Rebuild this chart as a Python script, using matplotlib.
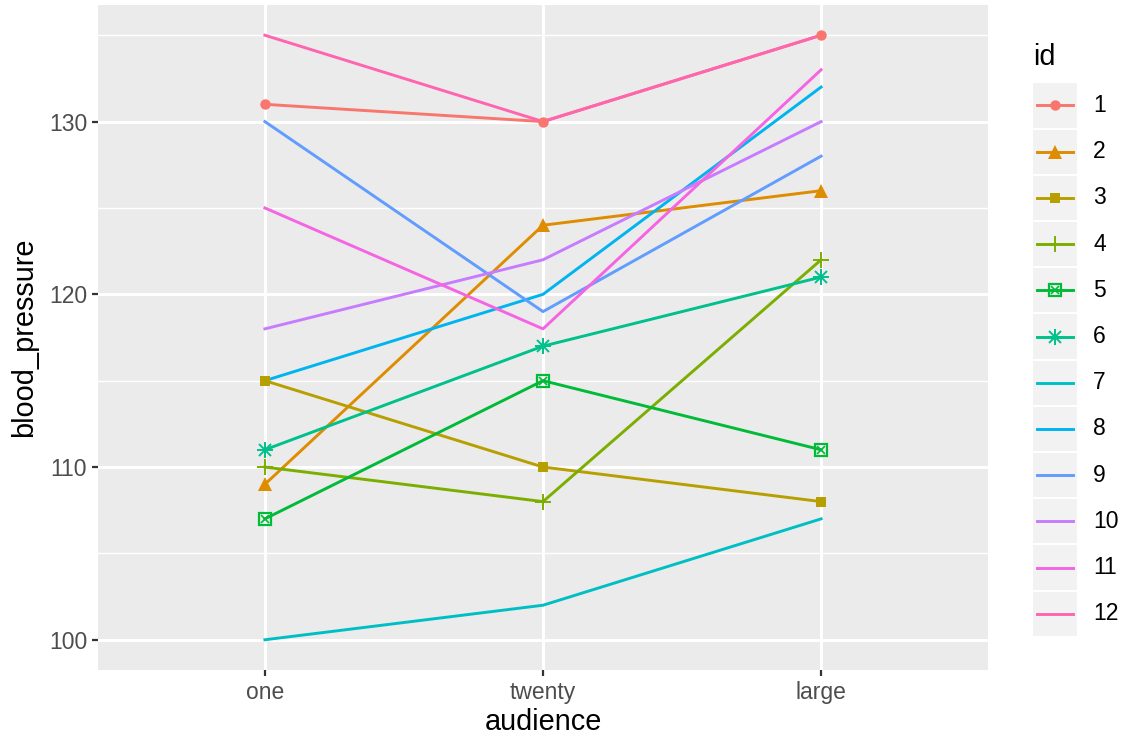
import matplotlib
matplotlib.use("Agg")
import matplotlib.pyplot as plt
from matplotlib.patches import Rectangle

plt.rcParams['font.family'] = ['Liberation Sans', 'DejaVu Sans']

audience = ["one", "twenty", "large"]
ids = [str(i) for i in range(1, 13)]

bp_1 = [131, 130, 135]
bp_2 = [109, 124, 126]
bp_3 = [115, 110, 108]
bp_4 = [110, 108, 122]
bp_5 = [107, 115, 111]
bp_6 = [111, 117, 121]
bp_7 = [100, 102, 107]
bp_8 = [115, 120, 132]
bp_9 = [130, 119, 128]
bp_10 = [118, 122, 130]
bp_11 = [125, 118, 133]
bp_12 = [135, 130, 135]
series = [bp_1, bp_2, bp_3, bp_4, bp_5, bp_6, bp_7, bp_8, bp_9, bp_10, bp_11, bp_12]

colors = ["#F8766D", "#DE8C00", "#B79F00", "#7CAE00", "#00BA38", "#00C08B",
          "#00BFC4", "#00B4F0", "#619CFF", "#C77CFF", "#F564E3", "#FF64B0"]
# ggplot shapes 16,17,15,3,7,8 ; the rest get none
markers = ["o", "^", "s", "+", "boxx", "*", None, None, None, None, None, None]
msizes = {"o": 7.5, "^": 10, "s": 7.5, "+": 12, "boxx": 8, "*": 11}

W, H = 1127, 747
fig = plt.figure(figsize=(W / 100, H / 100), dpi=100)
ax = fig.add_axes([98 / W, 1 - 670 / H, 890 / W, 665 / H])
ax.set_facecolor("#EBEBEB")
for s in ax.spines.values():
    s.set_visible(False)

x = list(range(len(audience)))
lw = 2.1


def draw_marker(axis, xs, ys, m, c, zorder=3):
    if m is None:
        return
    if m == "boxx":
        axis.plot(xs, ys, linestyle="none", marker="s", markersize=msizes[m],
                  markerfacecolor="none", markeredgecolor=c, markeredgewidth=1.6, zorder=zorder)
        axis.plot(xs, ys, linestyle="none", marker="x", markersize=msizes[m] * 0.75,
                  markeredgecolor=c, markeredgewidth=1.2, zorder=zorder)
    elif m == "*":
        axis.plot(xs, ys, linestyle="none", marker="+", markersize=msizes[m],
                  markeredgecolor=c, markeredgewidth=1.4, zorder=zorder)
        axis.plot(xs, ys, linestyle="none", marker="x", markersize=msizes[m] * 0.75,
                  markeredgecolor=c, markeredgewidth=1.4, zorder=zorder)
    elif m == "+":
        axis.plot(xs, ys, linestyle="none", marker="+", markersize=msizes[m],
                  markeredgecolor=c, markeredgewidth=1.4, zorder=zorder)
    else:
        axis.plot(xs, ys, linestyle="none", marker=m, markersize=msizes[m],
                  color=c, markeredgewidth=0, zorder=zorder)


for i, ys in enumerate(series):
    ax.plot(x, ys, color=colors[i], linewidth=lw, zorder=2 + i * 0.01)
for i, ys in enumerate(series):
    draw_marker(ax, x, ys, markers[i], colors[i], zorder=3)

ax.set_xlim(-0.6, 2.6)
ax.set_ylim(98.25, 136.75)
ax.set_xticks(x)
ax.set_xticklabels(audience)
ax.set_yticks([100, 110, 120, 130])
ax.set_yticks([105, 115, 125, 135], minor=True)
ax.grid(True, which="major", color="white", linewidth=2.1, zorder=0)
ax.grid(True, which="minor", axis="y", color="white", linewidth=1.05, zorder=0)
ax.set_axisbelow(True)
ax.tick_params(axis="both", which="major", length=4.3, width=1.6, color="#333333",
               labelcolor="#4D4D4D", labelsize=16.5, pad=3.5)
ax.tick_params(axis="both", which="minor", length=0)
ax.set_xlabel("audience", fontsize=20.8, color="black", labelpad=3)
ax.set_ylabel("blood_pressure", fontsize=20.8, color="black", labelpad=8)

# legend
key = 46.2
top = 82.4
lax = fig.add_axes([1033 / W, 1 - (top + 12 * key) / H, 94 / W, 12 * key / H])
lax.set_xlim(0, 94 / key)
lax.set_ylim(12, 0)
lax.axis("off")
for i, lab in enumerate(ids):
    lax.add_patch(Rectangle((0, i + 0.02), 44 / key, 0.96, facecolor="#F2F2F2",
                            edgecolor="none"))
    lax.plot([4 / key, 40 / key], [i + 0.5, i + 0.5], color=colors[i], linewidth=lw)
    draw_marker(lax, [22 / key], [i + 0.5], markers[i], colors[i])
    lax.text(60 / key, i + 0.5, lab, fontsize=16.5, color="black", ha="left", va="center")
fig.text(1033 / W, 1 - 57 / H, "id", fontsize=20.8, color="black", ha="left", va="center")

fig.savefig("out.png", dpi=100)
